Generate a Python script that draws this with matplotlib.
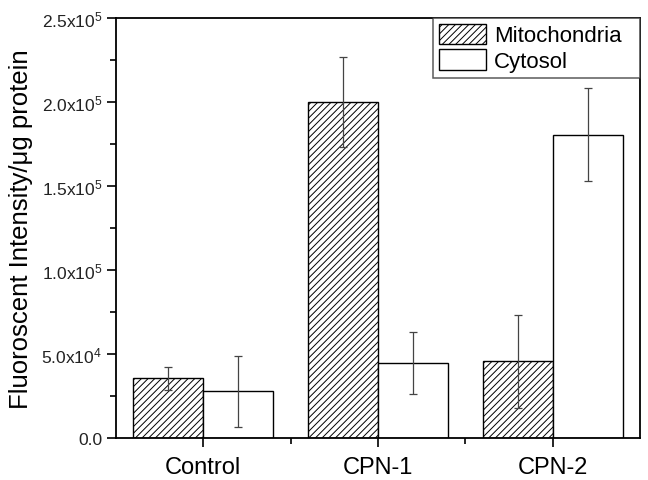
import matplotlib
matplotlib.use("Agg")
import matplotlib.pyplot as plt
import numpy as np
from matplotlib.ticker import MultipleLocator, FixedLocator

plt.rcParams['font.family'] = ['Liberation Sans', 'DejaVu Sans']
plt.rcParams['mathtext.fontset'] = 'custom'
plt.rcParams['mathtext.rm'] = 'Liberation Sans'
plt.rcParams['mathtext.default'] = 'regular'
plt.rcParams['hatch.linewidth'] = 0.7

categories = ["Control", "CPN-1", "CPN-2"]
mito = [3.55e4, 2.0e5, 4.56e4]
mito_err = [0.69e4, 0.27e5, 2.78e4]
cyto = [2.78e4, 4.46e4, 1.805e5]
cyto_err = [2.13e4, 1.87e4, 2.77e4]
ytick_vals = [0, 5e4, 1e5, 1.5e5, 2e5, 2.5e5]
ytick_labels = ["0.0", "5.0x10$^4$", "1.0x10$^5$", "1.5x10$^5$", "2.0x10$^5$", "2.5x10$^5$"]

fig = plt.figure(figsize=(6.48, 4.81), dpi=100)
ax = fig.add_axes([116/648, 42/481, (640-116)/648, (439-19)/481])

x = np.arange(len(categories))
w = 0.4
ax.bar(x - w/2, mito, w, color='white', edgecolor='black', hatch='/////', linewidth=1.0, label='Mitochondria')
ax.bar(x + w/2, cyto, w, color='white', edgecolor='black', linewidth=1.0, label='Cytosol')
ax.errorbar(x - w/2, mito, yerr=mito_err, fmt='none', ecolor='#444444', elinewidth=0.9, capsize=3.2, capthick=0.9)
ax.errorbar(x + w/2, cyto, yerr=cyto_err, fmt='none', ecolor='#444444', elinewidth=0.9, capsize=3.2, capthick=0.9)

ax.set_xlim(-0.5, 2.5)
ax.set_ylim(0, 2.5e5)
ax.set_xticks(x)
ax.set_xticklabels(categories, fontsize=17)
ax.xaxis.set_minor_locator(FixedLocator([0.5, 1.5]))
ax.set_yticks(ytick_vals)
ax.set_yticklabels(ytick_labels, fontsize=12.5)
ax.yaxis.set_minor_locator(MultipleLocator(2.5e4))
ax.tick_params(axis='both', which='major', direction='out', length=6.5, width=1.2, colors='black')
ax.tick_params(axis='both', which='minor', direction='out', length=4, width=1.2)
ax.tick_params(axis='x', which='major', pad=6.5)
ax.tick_params(axis='y', labelcolor='#222222')
for s in ax.spines.values():
    s.set_linewidth(1.3)
ax.set_ylabel("Fluoroscent Intensity/\u03bcg protein", fontsize=18.5)
ax.yaxis.set_label_coords(-0.158, 0.5)

x0 = (433 - 116) / 524
leg = ax.legend(loc='upper right', bbox_to_anchor=(x0, 0.0, 1 - x0, 1.0), mode='expand',
                fontsize=16, frameon=True, fancybox=False,
                edgecolor='#333333', borderaxespad=0, handlelength=2.15, handleheight=1.05,
                borderpad=0.25, labelspacing=0.12, handletextpad=0.35)
leg.get_frame().set_linewidth(1.1)

fig.savefig("out.png", dpi=100)
